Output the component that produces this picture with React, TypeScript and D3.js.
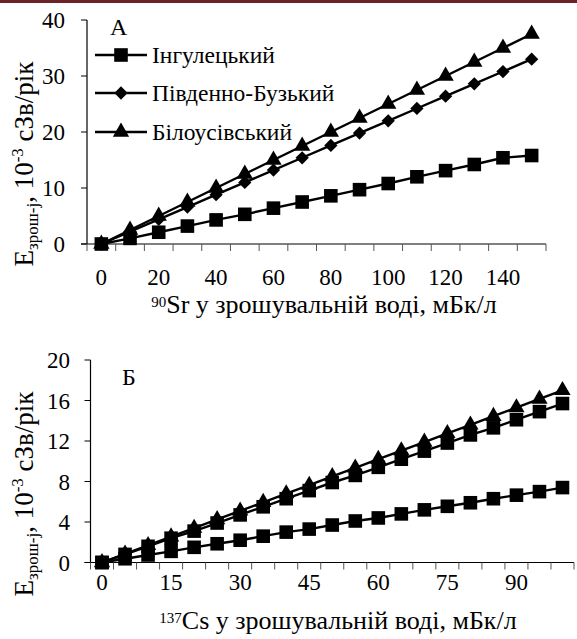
import React, { useEffect, useRef } from 'react';
import * as d3 from 'd3';

// панель А: 90Sr
const srDoses = [0, 10, 20, 30, 40, 50, 60, 70, 80, 90, 100, 110, 120, 130, 140, 150];
const srIngul = [0, 1.0, 2.1, 3.2, 4.3, 5.3, 6.4, 7.5, 8.6, 9.7, 10.8, 12.0, 13.1, 14.2, 15.4, 15.8];
const srPivdBuz = [0, 2.2, 4.4, 6.6, 8.8, 11.0, 13.2, 15.4, 17.6, 19.8, 22.0, 24.2, 26.4, 28.6, 30.8, 33.0];
const srBilous = [0, 2.5, 5.0, 7.5, 10.0, 12.5, 15.0, 17.5, 20.0, 22.5, 25.0, 27.5, 30.0, 32.5, 35.0, 37.5];
const srYTicks = [0, 10, 20, 30, 40];

// панель Б: 137Cs
const csDoses = [0, 5, 10, 15, 20, 25, 30, 35, 40, 45, 50, 55, 60, 65, 70, 75, 80, 85, 90, 95, 100];
const csIngul = [0, 0.37, 0.74, 1.1, 1.5, 1.85, 2.2, 2.6, 3.0, 3.3, 3.7, 4.1, 4.4, 4.8, 5.2, 5.55, 5.9, 6.3, 6.65, 7.0, 7.4];
const csPivdBuz = [0, 0.8, 1.6, 2.4, 3.1, 3.9, 4.7, 5.5, 6.3, 7.1, 7.9, 8.6, 9.4, 10.2, 11.0, 11.8, 12.6, 13.3, 14.1, 14.9, 15.7];
const csBilous = [0, 0.85, 1.7, 2.55, 3.4, 4.25, 5.1, 5.95, 6.8, 7.65, 8.5, 9.35, 10.2, 11.05, 11.9, 12.75, 13.6, 14.45, 15.3, 16.15, 17.0];
const csYTicks = [0, 4, 8, 12, 16, 20];

const seriesNames = ['Інгулецький', 'Південно-Бузький', 'Білоусівський'];

const FONT = '"Liberation Serif", "Times New Roman", serif';

// маркери
const marker = (kind) => {
    if (kind === 'square') return d3.symbol(d3.symbolSquare, 185)();
    if (kind === 'diamond') return d3.symbol(d3.symbolSquare, 88)();
    return d3.symbol(d3.symbolTriangle, 115)();
};

const App = () => {
    const ref = useRef();

    useEffect(() => {
        const svg = d3.select(ref.current);
        svg.selectAll('*').remove();

        svg.append('rect').attr('x', 0).attr('y', 0).attr('width', 577).attr('height', 3).attr('fill', '#6b2126');

        const drawPanel = (cfg) => {
            const g = svg.append('g');
            const x = d3.scaleBand().domain(cfg.doses).range([cfg.left, cfg.right]).padding(0);
            const y = d3.scaleLinear().domain([0, cfg.yMax]).range([cfg.bottom, cfg.top]);
            const cx = (d) => x(d) + x.bandwidth() / 2;

            // осі
            g.append('line').attr('x1', cfg.left).attr('x2', cfg.left).attr('y1', cfg.top).attr('y2', cfg.bottom)
                .attr('stroke', '#000').attr('stroke-width', 1.2);
            g.append('line').attr('x1', cfg.left - 6).attr('x2', cfg.right).attr('y1', cfg.bottom).attr('y2', cfg.bottom)
                .attr('stroke', '#000').attr('stroke-width', 1.2);

            g.selectAll('.yt').data(cfg.yTicks).join('line')
                .attr('x1', cfg.left - 6).attr('x2', cfg.left)
                .attr('y1', d => y(d)).attr('y2', d => y(d))
                .attr('stroke', '#000').attr('stroke-width', 1);
            g.selectAll('.yl').data(cfg.yTicks).join('text')
                .attr('x', cfg.yLabelX).attr('y', d => y(d)).attr('dy', '0.35em')
                .attr('text-anchor', 'end').attr('font-family', FONT).attr('font-size', 23)
                .text(d => d);

            const bounds = d3.range(cfg.doses.length + 1).map(i => cfg.left + i * x.step());
            g.selectAll('.xt').data(bounds).join('line')
                .attr('x1', d => d).attr('x2', d => d)
                .attr('y1', cfg.bottom).attr('y2', cfg.bottom + 7)
                .attr('stroke', '#555').attr('stroke-width', 1);
            g.selectAll('.xl').data(cfg.doses.filter((d, i) => i % cfg.labelEvery === 0 && i < cfg.doses.length - 1)).join('text')
                .attr('x', d => cx(d)).attr('y', cfg.xLabelY)
                .attr('text-anchor', 'middle').attr('font-family', FONT).attr('font-size', 23)
                .text(d => d);

            // лінії та маркери
            const line = d3.line().x((d, i) => cx(cfg.doses[i])).y(d => y(d));
            cfg.series.forEach((s) => {
                g.append('path').attr('d', line(s.values)).attr('fill', 'none')
                    .attr('stroke', '#000').attr('stroke-width', 2.4);
            });
            cfg.series.forEach((s) => {
                g.append('g').selectAll('path').data(s.values).join('path')
                    .attr('d', marker(s.marker))
                    .attr('transform', (d, i) => `translate(${cx(cfg.doses[i])},${y(d)})${s.marker === 'diamond' ? ' rotate(45)' : ''}`)
                    .attr('fill', '#000');
            });

            // підпис панелі
            g.append('text').attr('x', cfg.letterX).attr('y', cfg.letterY)
                .attr('font-family', FONT).attr('font-size', 24).text(cfg.letter);

            // назва осі Y
            const yt = g.append('text')
                .attr('transform', `translate(${cfg.yTitleX},${cfg.yTitleY}) rotate(-90)`)
                .attr('text-anchor', 'middle').attr('font-family', FONT).attr('font-size', 27);
            yt.append('tspan').text('E');
            yt.append('tspan').attr('font-size', 17).attr('dy', 5).text('зрош-j');
            yt.append('tspan').attr('dy', -5).text(', 10');
            yt.append('tspan').attr('font-size', 17).attr('dy', -10).text('-3');
            yt.append('tspan').attr('dy', 10).text(' сЗв/рік');

            // назва осі X
            const xt = g.append('text')
                .attr('x', cfg.xTitleX).attr('y', cfg.xTitleY)
                .attr('text-anchor', 'middle').attr('font-family', FONT).attr('font-size', 26);
            xt.append('tspan').attr('font-size', 15).attr('dy', -6.5).text(cfg.isotope);
            xt.append('tspan').attr('dy', 6.5).text(cfg.element + ' у зрошувальній воді, мБк/л');

            return g;
        };

        drawPanel({
            doses: srDoses, yMax: 40, yTicks: srYTicks,
            left: 87, right: 546, top: 20, bottom: 244,
            yLabelX: 65, labelEvery: 2, xLabelY: 285,
            series: [
                { values: srIngul, marker: 'square' },
                { values: srPivdBuz, marker: 'diamond' },
                { values: srBilous, marker: 'triangle' },
            ],
            letter: 'А', letterX: 110, letterY: 35,
            yTitleX: 33, yTitleY: 164,
            isotope: '90', element: 'Sr', xTitleX: 324, xTitleY: 313,
        });

        drawPanel({
            doses: csDoses, yMax: 20, yTicks: csYTicks,
            left: 90.5, right: 574, top: 360, bottom: 562.5,
            yLabelX: 70, labelEvery: 3, xLabelY: 590,
            series: [
                { values: csBilous, marker: 'triangle' },
                { values: csPivdBuz, marker: 'square' },
                { values: csIngul, marker: 'square' },
            ],
            letter: 'Б', letterX: 122, letterY: 385,
            yTitleX: 33, yTitleY: 494,
            isotope: '137', element: 'Cs', xTitleX: 338, xTitleY: 629,
        });

        // легенда
        const lg = svg.append('g');
        const rows = [55, 93, 132];
        const kinds = ['square', 'diamond', 'triangle'];
        seriesNames.forEach((name, i) => {
            lg.append('line').attr('x1', 95).attr('x2', 147).attr('y1', rows[i]).attr('y2', rows[i])
                .attr('stroke', '#000').attr('stroke-width', 2.4);
            lg.append('path').attr('d', marker(kinds[i]))
                .attr('transform', `translate(121,${rows[i]})${kinds[i] === 'diamond' ? ' rotate(45)' : ''}`)
                .attr('fill', '#000');
            lg.append('text').attr('x', 152).attr('y', rows[i]).attr('dy', '0.35em')
                .attr('font-family', FONT).attr('font-size', 23.5).text(name);
        });
    }, []);

    return (
        <svg ref={ref} width={577} height={639}
            style={{ position: 'absolute', left: 0, top: 0, background: '#fff' }}></svg>
    );
};

export default App;
